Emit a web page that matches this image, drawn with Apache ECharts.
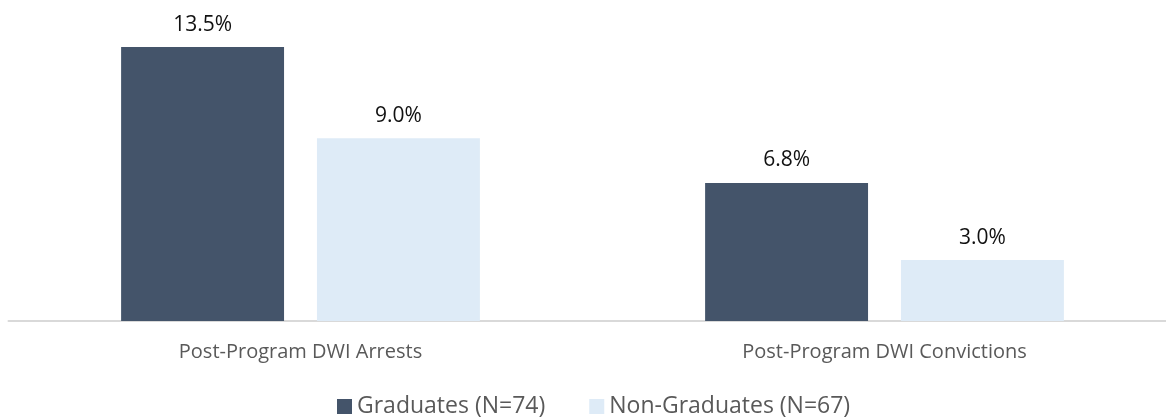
<!DOCTYPE html>
<html>
<head>
<meta charset="utf-8">
<script src="https://cdn.jsdelivr.net/npm/echarts@6/dist/echarts.min.js"></script>
<style>
  html, body { margin: 0; padding: 0; background: #fff; }
  #chart { width: 1166px; height: 419px; }
</style>
</head>
<body>
<div id="chart"></div>
<script>
const categories = ['Post-Program DWI Arrests', 'Post-Program DWI Convictions'];
const graduates = [13.5, 6.8];
const nonGraduates = [9.0, 3.0];
const seriesNames = ['Graduates (N=74)', 'Non-Graduates (N=67)'];

const FONT = '"Open Sans", "Noto Sans", sans-serif';
const chart = echarts.init(document.getElementById('chart'));

const labelStyle = {
  show: true,
  position: 'top',
  distance: 12,
  color: '#111111',
  fontSize: 21,
  fontFamily: FONT,
  formatter: p => p.value.toFixed(1) + '%'
};

chart.setOption({
  animation: false,
  // plot area runs slightly past the right edge so both groups sit where they belong
  grid: {
    left: 8.5, top: 16.6, width: 1168, height: 304.4,
    containLabel: false, outerBoundsMode: 'none'
  },
  legend: {
    data: seriesNames,
    top: 395,
    left: 337,
    padding: 0,
    itemWidth: 15,
    itemHeight: 15,
    itemGap: 44,
    icon: 'rect',
    textStyle: { color: '#595959', fontSize: 23, fontFamily: FONT }
  },
  xAxis: {
    type: 'category',
    data: categories,
    axisLine: { lineStyle: { color: '#D9D9D9', width: 2 } },
    axisTick: { show: false },
    axisLabel: { color: '#595959', fontSize: 20, fontFamily: FONT, margin: 21 }
  },
  yAxis: {
    type: 'value',
    min: 0,
    max: 15,
    show: false,
    splitLine: { show: false }
  },
  series: [
    {
      name: seriesNames[0],
      type: 'bar',
      data: graduates,
      barWidth: '27.9%',
      barGap: '20.2%',
      itemStyle: { color: '#44546A' },
      label: labelStyle
    },
    {
      name: seriesNames[1],
      type: 'bar',
      data: nonGraduates,
      barWidth: '27.9%',
      itemStyle: { color: '#DEEBF7' },
      label: labelStyle
    }
  ]
});
</script>
</body>
</html>
